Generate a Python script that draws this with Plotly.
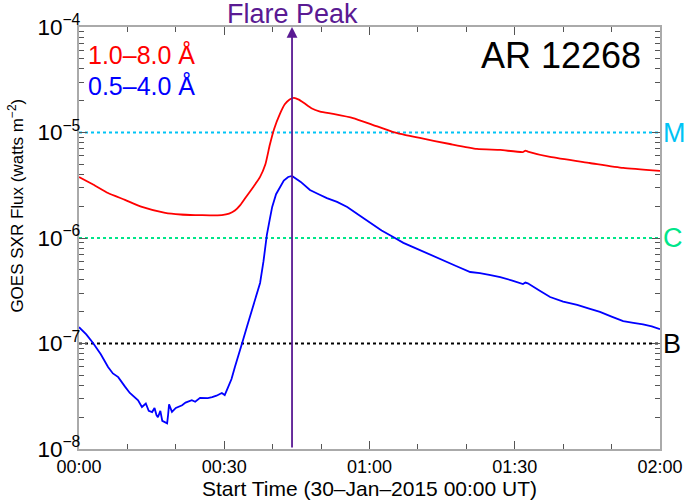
import plotly.graph_objects as go

# Time in minutes after 30-Jan-2015 00:00 UT
t_long = [0, 3.0, 6.0, 9.5, 13.0, 17.8, 21.0, 24.0, 27.0, 29.5, 31.0, 32.2, 33.3, 34.5, 36.0,
          37.4, 38.5, 39.4, 40.3, 41.5, 42.5, 43.5, 44.4, 45.4, 46.5, 48.0, 49.8, 52.5, 56.6,
          60.5, 64.9, 70.4, 76.6, 82.2, 87.0, 91.7, 92.2, 92.7, 97.3, 105.5, 112.4, 120.0]
flux_long = [3.79e-6, 3.2e-6, 2.67e-6, 2.3e-6, 1.97e-6, 1.73e-6, 1.67e-6, 1.65e-6, 1.64e-6,
             1.65e-6, 1.7e-6, 1.82e-6, 2.05e-6, 2.45e-6, 3.05e-6, 3.8e-6, 5.0e-6, 7.6e-6,
             1.08e-5, 1.5e-5, 1.85e-5, 2.06e-5, 2.13e-5, 2.05e-5, 1.9e-5, 1.7e-5, 1.58e-5,
             1.5e-5, 1.37e-5, 1.19e-5, 1.01e-5, 8.87e-6, 7.78e-6, 6.98e-6, 6.83e-6, 6.53e-6,
             6.72e-6, 6.6e-6, 5.86e-6, 5.14e-6, 4.61e-6, 4.32e-6]

t_short = [0, 1.5, 2.9, 4.5, 6.0, 7.0, 8.1, 8.8, 9.5, 10.5, 11.6, 12.2, 13.0, 13.8, 14.4, 15.1,
           15.6, 16.0, 16.3, 16.8, 17.2, 17.8, 18.2, 18.4, 18.6, 19.2, 20.0, 21.3, 22.0, 23.3,
           24.0, 25.0, 26.6, 27.5, 28.4, 29.5, 30.1, 30.8, 31.5, 32.2, 33.0, 33.7, 34.7, 35.7,
           36.6, 37.4, 38.1, 38.8, 39.4, 39.9, 40.7, 41.5, 42.3, 43.2, 44.0, 45.8, 47.7, 49.5,
           51.2, 53.3, 55.4, 57.8, 60.1, 62.5, 64.9, 67.0, 69.0, 72.0, 75.2, 78.0, 80.8, 82.8,
           85.0, 87.0, 89.5, 91.7, 92.2, 92.7, 95.0, 97.3, 100.0, 102.9, 105.2, 107.6, 110.0,
           112.4, 114.5, 116.5, 118.3, 120.0]
flux_short = [1.43e-7, 1.22e-7, 1.01e-7, 7.9e-8, 6.0e-8, 5.2e-8, 4.8e-8, 4.3e-8, 3.9e-8, 3.4e-8,
              3.05e-8, 2.9e-8, 2.5e-8, 2.7e-8, 2.3e-8, 2.24e-8, 2.45e-8, 2.1e-8, 2.0e-8, 2.3e-8,
              1.85e-8, 1.8e-8, 1.75e-8, 2.1e-8, 2.65e-8, 2.25e-8, 2.45e-8, 2.6e-8, 2.75e-8, 2.9e-8,
              2.8e-8, 3.05e-8, 3.04e-8, 3.1e-8, 3.2e-8, 3.4e-8, 3.25e-8, 3.85e-8, 4.6e-8, 6.0e-8,
              7.8e-8, 1.01e-7, 1.45e-7, 2.08e-7, 2.8e-7, 3.75e-7, 6.0e-7, 1.07e-6, 1.5e-6, 1.97e-6,
              2.6e-6, 3.04e-6, 3.5e-6, 3.79e-6, 3.87e-6, 3.4e-6, 2.85e-6, 2.6e-6, 2.39e-6, 2.2e-6,
              1.97e-6, 1.65e-6, 1.39e-6, 1.18e-6, 1.02e-6, 9.0e-7, 8.2e-7, 7.1e-7, 6.18e-7, 5.4e-7,
              4.76e-7, 4.65e-7, 4.45e-7, 4.26e-7, 3.95e-7, 3.66e-7, 3.78e-7, 3.72e-7, 3.2e-7,
              2.76e-7, 2.5e-7, 2.32e-7, 2.15e-7, 1.99e-7, 1.8e-7, 1.63e-7, 1.57e-7, 1.52e-7,
              1.45e-7, 1.37e-7]

peak_time = 44.0
class_exps = [-5, -6, -7]          # log10 of the M, C, B thresholds
class_names = ["M", "C", "B"]
class_colors = ["#00c3f5", "#00e68a", "#000000"]

x_tickvals = [0, 30, 60, 90, 120]
x_ticktext = ["00:00", "00:30", "01:00", "01:30", "02:00"]

Y_MIN, Y_MAX = -8, -4
FONT = "Liberation Sans, Arial, Helvetica, sans-serif"
PURPLE = "#5a1a93"

fig = go.Figure()

for e, col in zip(class_exps, class_colors):
    fig.add_trace(go.Scatter(x=[0, 120], y=[10.0 ** e, 10.0 ** e], mode="lines",
                             line=dict(color=col, width=2, dash="dot"),
                             hoverinfo="skip", showlegend=False))

fig.add_trace(go.Scatter(x=t_long, y=flux_long, mode="lines",
                         line=dict(color="#ff0000", width=1.8, shape="spline", smoothing=0.5),
                         showlegend=False))
fig.add_trace(go.Scatter(x=t_short, y=flux_short, mode="lines",
                         line=dict(color="#0000ff", width=1.8), showlegend=False))

# Flare peak arrow
fig.add_annotation(x=peak_time, y=Y_MAX, xref="x", yref="y",
                   ax=peak_time, ay=Y_MIN, axref="x", ayref="y",
                   showarrow=True, arrowhead=2, arrowsize=1.2, arrowwidth=1.8,
                   arrowcolor=PURPLE, text="")
fig.add_annotation(x=peak_time, y=1.0, xref="x", yref="paper", yshift=13,
                   text="Flare Peak", showarrow=False, yanchor="middle",
                   font=dict(family=FONT, size=27, color=PURPLE))

fig.add_annotation(x=0.970, y=0.932, xref="paper", yref="paper",
                   text="AR 12268", showarrow=False, xanchor="right", yanchor="middle",
                   font=dict(family=FONT, size=36, color="black"))
fig.add_annotation(x=0.012, y=0.936, xref="paper", yref="paper",
                   text="1.0–8.0 Å", showarrow=False, xanchor="left", yanchor="middle",
                   font=dict(family=FONT, size=25, color="#ff0000"))
fig.add_annotation(x=0.012, y=0.862, xref="paper", yref="paper",
                   text="0.5–4.0 Å", showarrow=False, xanchor="left", yanchor="middle",
                   font=dict(family=FONT, size=25, color="#0000ff"))

for e, name, col in zip(class_exps, class_names, class_colors):
    fig.add_annotation(x=1.0, y=(e - Y_MIN) / (Y_MAX - Y_MIN), xref="paper", yref="paper",
                       text=name, showarrow=False, xanchor="left", yanchor="middle", xshift=1,
                       font=dict(family=FONT, size=27, color=col))

# y-axis title (sits above the plot's centre in the reference)
fig.add_annotation(x=-0.109, y=0.576, xref="paper", yref="paper",
                   text="GOES SXR Flux (watts m<sup>−2</sup>)", showarrow=False, textangle=-90,
                   xanchor="center", yanchor="middle",
                   font=dict(family=FONT, size=17, color="black"))

fig.update_layout(
    width=685, height=502,
    margin=dict(l=79, r=25, t=27, b=53),
    paper_bgcolor="white", plot_bgcolor="white",
    font=dict(family=FONT, size=17, color="black"),
)
fig.update_xaxes(range=[0, 120], tickvals=x_tickvals, ticktext=x_ticktext, automargin=False,
                 ticks="inside", ticklen=8, tickcolor="#555", showgrid=False, zeroline=False,
                 showline=True, linecolor="#aaa", linewidth=2, mirror="allticks",
                 tickfont=dict(size=18),
                 minor=dict(ticks="inside", ticklen=5, tickcolor="#555", dtick=10, showgrid=False),
                 title=dict(text="Start Time (30–Jan–2015 00:00 UT)", font=dict(size=21), standoff=0))
fig.update_yaxes(type="log", range=[Y_MIN, Y_MAX], dtick=1, exponentformat="power", automargin=False,
                 ticks="inside", ticklen=8, tickcolor="#555", showgrid=False, zeroline=False,
                 showline=True, linecolor="#aaa", linewidth=2, mirror="allticks",
                 tickfont=dict(size=18), ticklabelstandoff=-7,
                 minor=dict(ticks="inside", ticklen=5, tickcolor="#555", dtick="D1", showgrid=False))

fig.write_html("out.html", config={"displayModeBar": False},
               post_script="document.body.style.margin='0px';document.body.style.overflow='hidden';")
